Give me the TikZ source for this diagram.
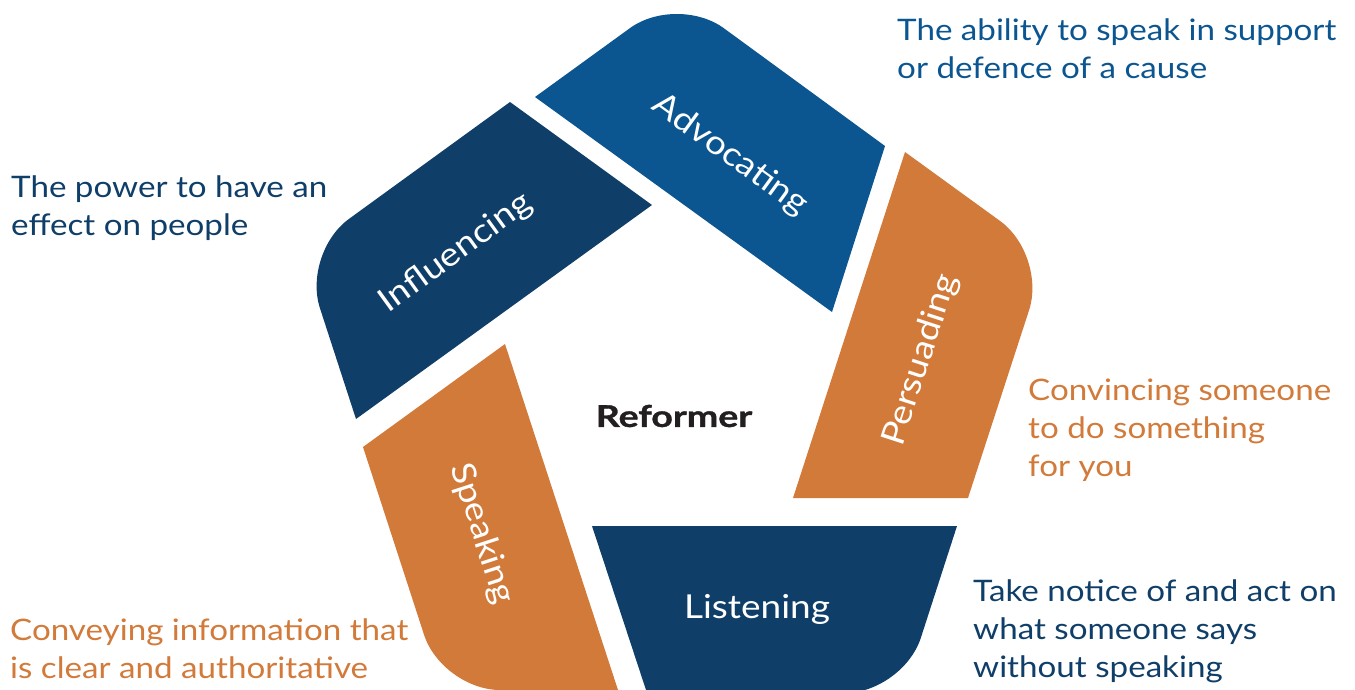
\documentclass[tikz,border=0pt]{standalone}
\usepackage{fontspec}
\setmainfont{Lato}[FakeStretch=1.12]
\newfontfamily\heavyfont{Lato}[FakeStretch=1.25,FakeBold=1.2]
\definecolor{advblue}{HTML}{0B5590}
\definecolor{navy}{HTML}{0F3E68}
\definecolor{rust}{HTML}{D27A3A}
\definecolor{inkblack}{HTML}{231F20}
\begin{document}
\begin{tikzpicture}[x=1pt,y=-1pt,
        lab/.style={text=white,inner sep=0pt,font=\fontsize{33}{40}\selectfont},
        desc/.style={anchor=base west,align=left,inner sep=0pt,font=\fontsize{29.6}{38}\selectfont}]
        \useasboundingbox (0,0) rectangle (1355,689);
        \clip (0,0) rectangle (1355,689);
        % the five pieces, only the outer corner is rounded
        \fill[advblue] (832,312) -- (535,97) [rounded corners=58pt] -- (677,-6) [sharp corners] -- (885,146) -- cycle;
        \fill[rust] (793,498) -- (905,152) [rounded corners=58pt] -- (1047,255) [sharp corners] -- (968,498) -- cycle;
        \fill[navy] (592,526) -- (957,526) [rounded corners=58pt] -- (903,693) [sharp corners] -- (647,693) -- cycle;
        \fill[rust] (505,344) -- (618,690) [rounded corners=58pt] -- (442,690) [sharp corners] -- (363,447) -- cycle;
        \fill[navy] (652,205) -- (356,419) [rounded corners=58pt] -- (302,253) [sharp corners] -- (510,102) -- cycle;
        % labels on the pieces
        \node[lab,rotate=-36] (advocating) at (730,155) {Advocating};
        \node[lab,rotate=72] (persuading) at (921,360) {Persuading};
        \node[lab] (listening) at (757,609) {Listening};
        \node[lab,rotate=-72] (speaking) at (482,534) {Speaking};
        \node[lab,rotate=36] (influencing) at (456,253) {Influencing};
        \node[text=inkblack,font=\heavyfont\bfseries\fontsize{30}{34}\selectfont] (reformer) at (674,416) {Reformer};
        % descriptions (base is the last line)
        \node[desc,text=advblue] (advocatingtext) at (897,78) {The ability to speak in support\\or defence of a cause};
        \node[desc,text=rust] (persuadingtext) at (1028,476) {Convincing someone\\to do something\\for you};
        \node[desc,text=navy] (listeningtext) at (973,677) {Take notice of and act on\\what someone says\\without speaking};
        \node[desc,text=rust] (speakingtext) at (10,678) {Conveying information that\\is clear and authoritative};
        \node[desc,text=navy] (influencingtext) at (11,235) {The power to have an\\effect on people};
\end{tikzpicture}
\end{document}
